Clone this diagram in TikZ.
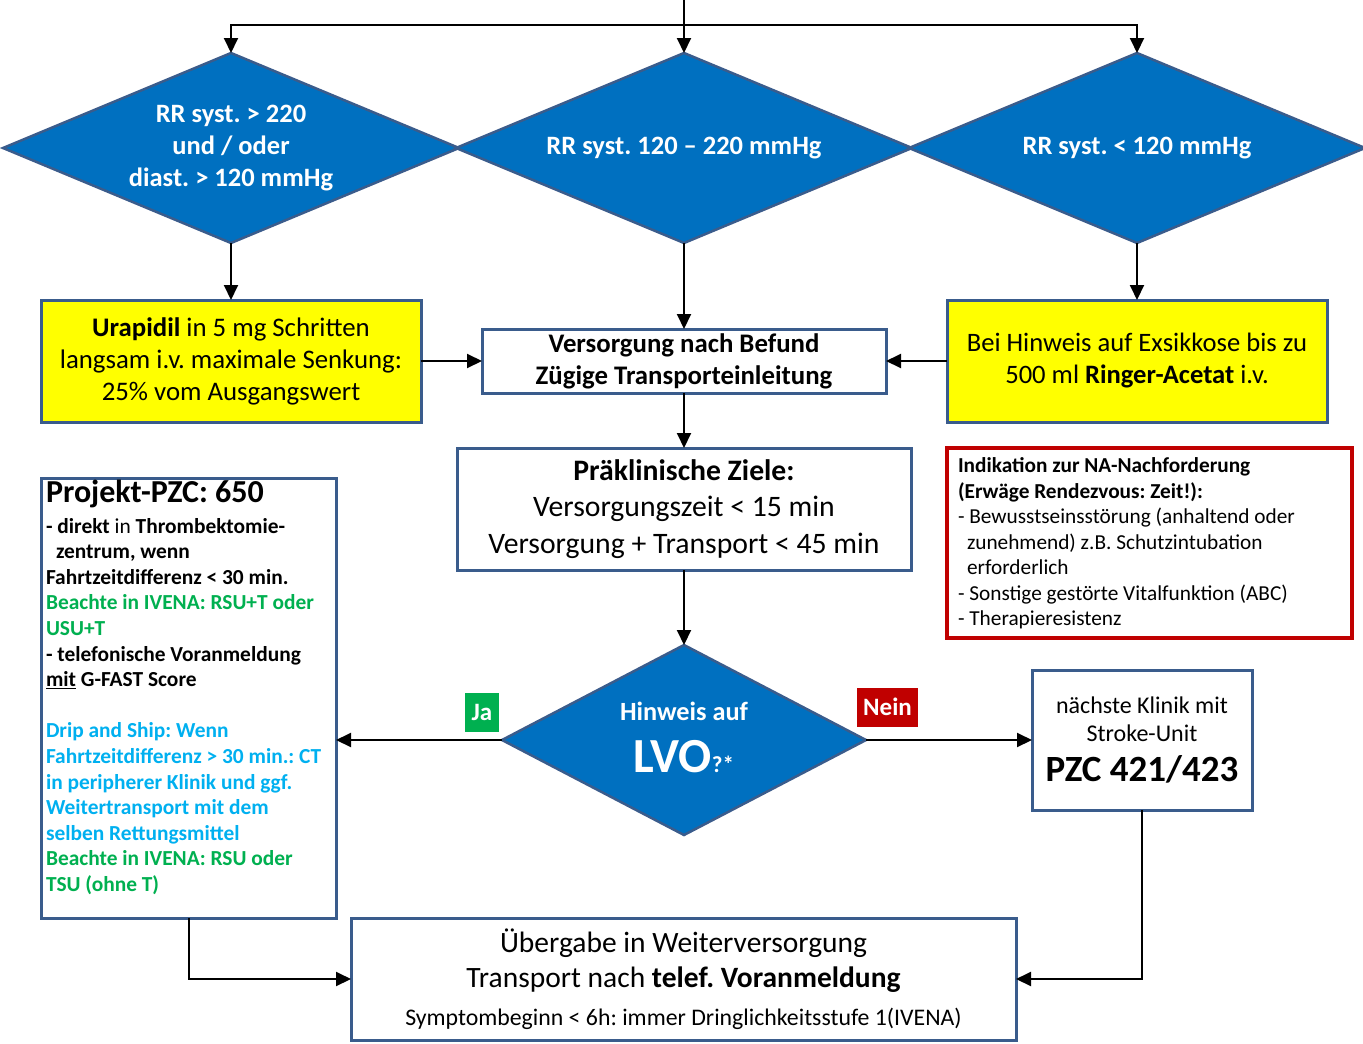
\documentclass[tikz,border=0pt]{standalone}
\usepackage{fontspec}
\setmainfont{Carlito}
\usetikzlibrary{arrows.meta,shapes.geometric}
\definecolor{diablue}{HTML}{0070C0}
\definecolor{edgeblue}{RGB}{58,92,140}
\definecolor{boxyellow}{HTML}{FFFF00}
\definecolor{alertred}{HTML}{C00000}
\definecolor{okgreen}{HTML}{00B050}
\definecolor{infocyan}{HTML}{00B0F0}
\newcommand{\fs}[2]{\fontsize{#1pt}{#2pt}\selectfont}
\frenchspacing
\begin{document}
\begin{tikzpicture}[x=1pt,y=-1pt,
  every node/.style={inner sep=0pt, outer sep=0pt},
  arr/.style={draw=black, line width=2pt, -{Triangle[length=15pt,width=14pt]}},
  dia/.style={diamond, aspect=2.4, draw=edgeblue, line width=2.5pt, fill=diablue, text=white,
    minimum width=456pt, minimum height=190pt, align=center, font=\bfseries\fs{26.5}{32}},
  box/.style={rectangle, draw=edgeblue, line width=3pt, fill=white, align=center},
  ybox/.style={box, fill=boxyellow, minimum width=380pt, minimum height=122pt, font=\fs{26.8}{32}},
  tag/.style={text=white, font=\bfseries\fs{25}{25}, minimum height=39pt, align=center}
]
\useasboundingbox (0,0) rectangle (1363,1044);

% blood pressure decisions
\node[dia] (d1) at (231,148) {RR syst. > 220\\und / oder\\diast. > 120 mmHg};
\node[dia] (d2) at (684,148) {RR syst. 120 – 220 mmHg};
\node[dia] (d3) at (1137,148) {RR syst. < 120 mmHg};

% measures per branch
\node[ybox] (ura) at (231,361) {\textbf{Urapidil} in 5 mg Schritten\\langsam i.v. maximale Senkung:\\25\% vom Ausgangswert};
\node[box, minimum width=404pt, minimum height=64pt, font=\bfseries\fs{26.8}{32}] (vers) at (684,361)
  {Versorgung nach Befund\\Zügige Transporteinleitung};
\node[ybox, font=\fs{26.6}{32}] (bei) at (1137,361) {Bei Hinweis auf Exsikkose bis zu\\500 ml \textbf{Ringer-Acetat} i.v.};

% goals
\node[box, minimum width=454pt, minimum height=122pt, font=\fs{29.7}{36.5}] (prae) at (684,509)
  {\textbf{Präklinische Ziele:}\\Versorgungszeit < 15 min\\Versorgung + Transport < 45 min};

% emergency physician indication
\node[rectangle, draw=alertred, line width=4.5pt, fill=white, minimum width=405pt, minimum height=190pt] (na) at (1149.5,543) {};
\node[anchor=north west, align=left, font=\fs{21.3}{25.5}] (natext) at (958,458)
  {\textbf{Indikation zur NA-Nachforderung}\\
   \textbf{(Erwäge Rendezvous: Zeit!):}\\
   - Bewusstseinsstörung (anhaltend oder\\
   \hspace*{9pt}zunehmend) z.B. Schutzintubation\\
   \hspace*{9pt}erforderlich\\
   - Sonstige gestörte Vitalfunktion (ABC)\\
   - Therapieresistenz};

% LVO decision
\node[diamond, draw=edgeblue, line width=2.5pt, fill=diablue, minimum width=364pt, minimum height=190pt] (lvo) at (684,740) {};
\node[text=white, font=\bfseries\fs{26.3}{26.3}] (lvoq) at (684,711) {Hinweis auf};
\node[text=white, font=\bfseries\fs{49}{49}, anchor=base] (lvot) at (684,772) {LVO{\fs{23}{23}?*}};

% thrombectomy centre
\node[box, minimum width=295pt, minimum height=440pt] (proj) at (188.5,698) {};
\node[anchor=west, font=\bfseries\fs{32}{32}] (projtitle) at (46,494) {Projekt-PZC: 650};
\node[anchor=north west, align=left, font=\bfseries\fs{21.4}{25.6}] (projtext) at (46,518)
  {- direkt \mdseries in \bfseries Thrombektomie-\\
   \hspace*{10pt}zentrum, wenn\\
   Fahrtzeitdifferenz < 30 min.\\
   \textcolor{okgreen}{Beachte in IVENA: RSU+T oder}\\
   \textcolor{okgreen}{USU+T}\\
   - telefonische Voranmeldung\\
   \underline{mit} G-FAST Score\\[25.6pt]
   \textcolor{infocyan}{Drip and Ship: Wenn}\\
   \textcolor{infocyan}{Fahrtzeitdifferenz > 30 min.: CT}\\
   \textcolor{infocyan}{in peripherer Klinik und ggf.}\\
   \textcolor{infocyan}{Weitertransport mit dem}\\
   \textcolor{infocyan}{selben Rettungsmittel}\\
   \textcolor{okgreen}{Beachte in IVENA: RSU oder}\\
   \textcolor{okgreen}{TSU (ohne T)}};

% nearest stroke unit
\node[box, minimum width=220pt, minimum height=140pt, font=\fs{24}{28}] (pzc) at (1142,740)
  {nächste Klinik mit\\Stroke-Unit\\[12pt]{\bfseries\fs{37}{37}PZC 421/423}};

% handover
\node[box, minimum width=665pt, minimum height=122pt, font=\fs{29.5}{35}] (ueb) at (683.5,979)
  {Übergabe in Weiterversorgung\\Transport nach \textbf{telef. Voranmeldung}\\[3pt]{\fs{23.8}{23.8}Symptombeginn < 6h: immer Dringlichkeitsstufe 1(IVENA)}};

% answer tags
\node[tag, fill=okgreen, minimum width=34pt] (ja) at (482,712) {Ja};
\node[tag, fill=alertred, minimum width=61pt] (nein) at (887.5,707) {Nein};

% connectors
\coordinate (top) at (684,0);
\coordinate (hl) at (0,25);
\draw[arr] (top) -- (d2.north);
\draw[arr] (top |- hl) -| (d1.north);
\draw[arr] (top |- hl) -| (d3.north);
\draw[arr] (d1.south) -- (ura.north);
\draw[arr] (d2.south) -- (vers.north);
\draw[arr] (d3.south) -- (bei.north);
\draw[arr] (ura.east) -- (vers.west);
\draw[arr] (bei.west) -- (vers.east);
\draw[arr] (vers.south) -- (prae.north);
\draw[arr] (prae.south) -- (lvo.north);
\draw[arr] (lvo.west) -- (lvo.west -| proj.east);
\draw[arr] (lvo.east) -- (pzc.west);
\draw[arr] (proj.south) |- (ueb.west);
\draw[arr] (pzc.south) |- (ueb.east);
\end{tikzpicture}
\end{document}
